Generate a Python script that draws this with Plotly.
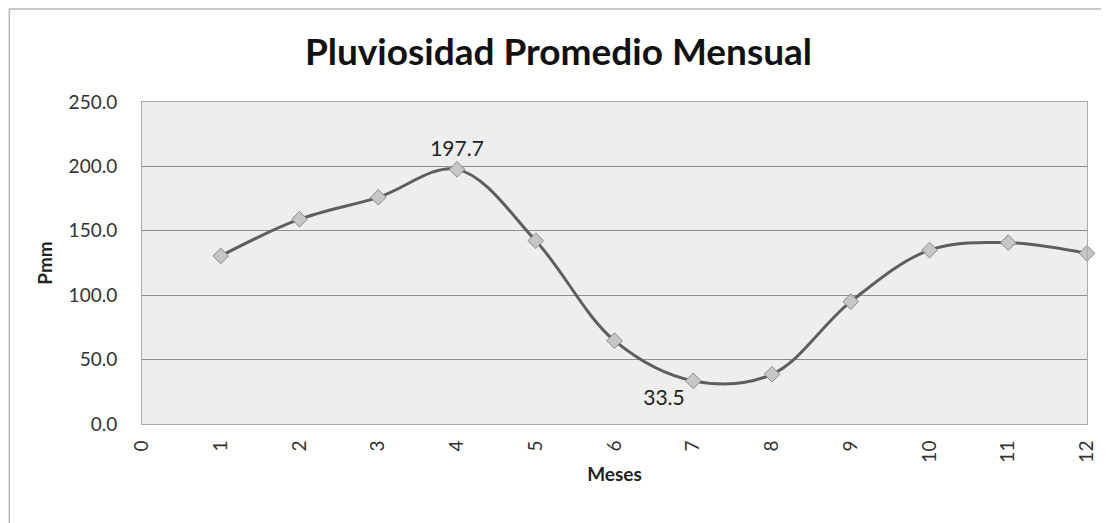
import plotly.graph_objects as go

months = [1, 2, 3, 4, 5, 6, 7, 8, 9, 10, 11, 12]
pmm = [130.5, 159.0, 176.0, 197.7, 142.3, 64.7, 33.5, 38.6, 95.0, 135.0, 140.8, 132.5]
labels = ["", "", "", "197.7", "", "", "33.5", "", "", "", "", ""]
label_pos = ["top center"] * 6 + ["bottom left"] + ["top center"] * 5
x_ticks = list(range(0, 13))
y_ticks = [0, 50, 100, 150, 200, 250]

FONT = "Lato, Open Sans, sans-serif"

fig = go.Figure()
fig.add_trace(go.Scatter(
    x=months, y=pmm, mode="lines+markers+text",
    text=labels, textposition=label_pos,
    textfont=dict(family=FONT, size=21, color="#222"),
    line=dict(color="#5e5e5e", width=3, shape="spline", smoothing=1.0),
    marker=dict(symbol="diamond", size=12, color="#c6c6c6",
                line=dict(color="#8a8a8a", width=1)),
    showlegend=False, cliponaxis=False,
))

fig.update_layout(
    width=1101, height=515,
    margin=dict(l=134, r=20, t=94, b=99),
    paper_bgcolor="white", plot_bgcolor="#eeeeee",
    title=dict(text="<b>Pluviosidad Promedio Mensual</b>", x=0.5, xanchor="center",
               y=0.915, yanchor="middle",
               font=dict(family=FONT, size=37, color="#111")),
    font=dict(family=FONT, color="#333"),
    shapes=[dict(type="rect", xref="paper", yref="paper",
                 x0=-0.1404, x1=1.019, y0=-0.40, y1=1.289,
                 line=dict(color="#b5b5b5", width=1.5))],
)
fig.update_xaxes(
    range=[0, 12], tickvals=x_ticks, ticktext=[str(v) for v in x_ticks],
    tickangle=-90, tickfont=dict(size=19, color="#333"), ticklabelstandoff=8,
    showgrid=False, zeroline=False, showline=True, linecolor="#aaaaaa", mirror=True,
    ticks="", title=dict(text="<b>Meses</b>", font=dict(size=19, color="#222"), standoff=6),
)
fig.update_yaxes(
    range=[0, 250], tickvals=y_ticks, tickformat=".1f",
    tickfont=dict(size=19, color="#333"), ticklabelstandoff=20,
    showgrid=True, gridcolor="#8f8f8f", gridwidth=1, zeroline=False,
    showline=True, linecolor="#aaaaaa", mirror=True, ticks="",
    title=dict(text="<b>Pmm</b>", font=dict(size=19, color="#222"), standoff=10),
)

fig.write_html("out.html")
